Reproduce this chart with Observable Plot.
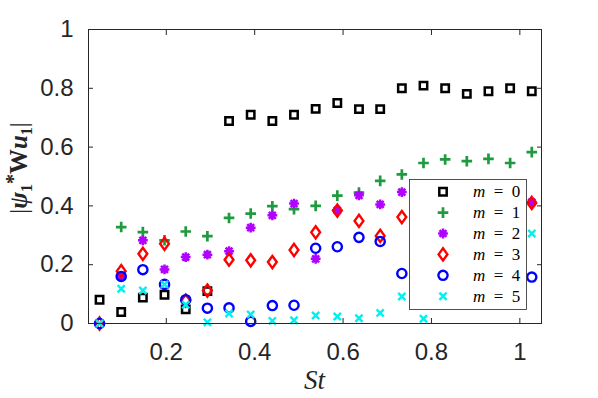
<!DOCTYPE html>
<html><head><meta charset="utf-8">
<script src="https://cdn.jsdelivr.net/npm/d3@7"></script>
<script src="https://cdn.jsdelivr.net/npm/@observablehq/plot@0.6"></script>
<style>body{margin:0;background:#fff} svg{display:block}</style>
</head><body><div id="chart"></div>
<script>
// Strouhal numbers (x)
const St = [0.049, 0.098, 0.147, 0.196, 0.244, 0.293, 0.342, 0.391, 0.44, 0.489, 0.538,
            0.587, 0.636, 0.684, 0.733, 0.782, 0.831, 0.88, 0.929, 0.978, 1.027];
// |psi_1* W u_1| for each azimuthal mode m (null = hidden / not visible)
const m0 = [0.081, 0.039, 0.088, 0.098, 0.048, 0.11, 0.689, 0.71, 0.689, 0.71, 0.73,
            0.75, 0.729, 0.729, 0.80, 0.809, 0.80, 0.781, 0.79, 0.80, 0.79];
const m1 = [null, 0.328, 0.311, 0.283, 0.313, 0.297, 0.359, 0.374, 0.399, 0.389, 0.40,
            0.435, 0.445, 0.485, 0.507, 0.546, 0.558, 0.552, 0.56, 0.546, 0.583];
const m2 = [null, 0.16, 0.283, 0.184, 0.226, 0.234, 0.246, 0.326, 0.368, 0.408, 0.22,
            0.385, 0.436, 0.405, 0.447, null, null, null, null, null, 0.413];
const m3 = [0, 0.178, 0.237, 0.271, 0.078, 0.112, 0.217, 0.215, 0.209, 0.25, 0.31,
            0.384, 0.349, 0.298, 0.362, null, null, null, null, null, 0.41];
const m4 = [0, 0.16, 0.183, 0.133, 0.081, 0.052, 0.053, 0.007, 0.061, 0.062, 0.256,
            0.261, 0.293, 0.279, 0.17, null, null, null, null, null, 0.158];
const m5 = [0, 0.118, 0.112, 0.133, 0.064, 0.004, 0.034, 0.031, 0.009, 0.011, 0.027,
            0.024, 0.018, 0.036, 0.092, 0.016, null, null, null, null, 0.306];
const modeNames = ["0", "1", "2", "3", "4", "5"];
const xTicks = [0.2, 0.4, 0.6, 0.8, 1];
const yTicks = [0, 0.2, 0.4, 0.6, 0.8, 1];
const colors = ["#000000", "#1f9a3f", "#b000ff", "#ff0000", "#0000ff", "#00f0f0"];

// MATLAB-like marker shapes
const symSquare = {draw(c){const s=3.7;c.moveTo(-s,-s);c.lineTo(s,-s);c.lineTo(s,s);c.lineTo(-s,s);c.closePath();}};
const symPlus = {draw(c){const s=5.3;c.moveTo(-s,0);c.lineTo(s,0);c.moveTo(0,-s);c.lineTo(0,s);}};
const symStar = {draw(c){const s=4.9,d=s*0.7071;c.moveTo(-s,0);c.lineTo(s,0);c.moveTo(0,-s);c.lineTo(0,s);c.moveTo(-d,-d);c.lineTo(d,d);c.moveTo(-d,d);c.lineTo(d,-d);}};
const symDiamond = {draw(c){const w=4.4,h=6.1;c.moveTo(0,-h);c.lineTo(w,0);c.lineTo(0,h);c.lineTo(-w,0);c.closePath();}};
const symCircle = {draw(c){const r=4.6;c.moveTo(r,0);c.arc(0,0,r,0,2*Math.PI);c.closePath();}};
const symX = {draw(c){const s=3.6;c.moveTo(-s,-s);c.lineTo(s,s);c.moveTo(-s,s);c.lineTo(s,-s);}};

const series = [m0, m1, m2, m3, m4, m5];
const symbols = [symSquare, symPlus, symStar, symDiamond, symCircle, symX];
const widths = [2.5, 2.7, 2.5, 2.4, 2.4, 2.4];

const axisColor = "#262626";
const plot = Plot.plot({
  width: 598, height: 398,
  marginLeft: 88, marginRight: 57, marginTop: 29, marginBottom: 75,
  style: {fontFamily: "'Liberation Sans', Arial, sans-serif", fontSize: "24px", color: axisColor, background: "#fff"},
  x: {domain: [0.024, 1.049]},
  y: {domain: [0, 1]},
  marks: [
    ...series.map((s, i) => Plot.dot(s, {x: St, y: s, symbol: symbols[i], stroke: colors[i], fill: "none", strokeWidth: widths[i]})),
    Plot.frame({stroke: axisColor, strokeWidth: 1}),
    Plot.axisX({anchor: "bottom", ticks: xTicks, tickSize: -5, fill: "none", label: null}),
    Plot.axisX({anchor: "top", ticks: xTicks, tickSize: -5, fill: "none", label: null}),
    Plot.axisY({anchor: "left", ticks: yTicks, tickSize: -5, fill: "none", label: null}),
    Plot.axisY({anchor: "right", ticks: yTicks, tickSize: -5, fill: "none", label: null}),
    Plot.axisX({anchor: "bottom", ticks: xTicks, tickSize: 0, tickPadding: 19, tickFormat: d => String(d), label: null}),
    Plot.axisY({anchor: "left", ticks: yTicks, tickSize: 0, tickPadding: 15, tickFormat: d => String(d), label: null})
  ]
});
document.getElementById("chart").appendChild(plot);

const svg = d3.select(plot);
// x label
svg.append("text").attr("x", 314.5).attr("y", 389).attr("text-anchor", "middle")
  .attr("font-family", "'Liberation Serif', 'DejaVu Serif', serif").attr("font-style", "italic")
  .attr("font-size", 27).attr("fill", axisColor).text("St");
// y label |psi_1* W u_1|
const yl = svg.append("text").attr("transform", "translate(27,168) rotate(-90)").attr("text-anchor", "middle")
  .attr("font-family", "'Liberation Serif', 'DejaVu Serif', serif").attr("font-size", 25).attr("fill", axisColor);
yl.append("tspan").text("|");
yl.append("tspan").attr("font-style", "italic").attr("font-weight", "bold").text("ψ");
yl.append("tspan").attr("font-size", 16).attr("dy", 5).attr("font-weight", "bold").text("1");
yl.append("tspan").attr("font-size", 20).attr("dy", -12).attr("font-weight", "bold").text("*");
yl.append("tspan").attr("dy", 7).attr("font-weight", "bold").text("W");
yl.append("tspan").attr("font-style", "italic").attr("font-weight", "bold").text("u");
yl.append("tspan").attr("font-size", 16).attr("dy", 5).attr("font-weight", "bold").text("1");
yl.append("tspan").attr("dy", -5).text("|");

// legend
const lg = svg.append("g");
lg.append("rect").attr("x", 409.5).attr("y", 179.5).attr("width", 117).attr("height", 130)
  .attr("fill", "#fff").attr("stroke", axisColor).attr("stroke-width", 0.8);
modeNames.forEach((name, i) => {
  const cy = 191.7 + i * 20.9;
  lg.append("path").attr("transform", `translate(443,${cy})`)
    .attr("d", d3.symbol(symbols[i])())
    .attr("fill", "none").attr("stroke", colors[i]).attr("stroke-width", widths[i]);
  const t = lg.append("text").attr("x", 473).attr("y", cy + 5.5).attr("text-anchor", "start")
    .attr("font-family", "'Liberation Serif', 'DejaVu Serif', serif").attr("font-size", 17).attr("fill", "#000");
  t.append("tspan").attr("font-style", "italic").text("m");
  t.append("tspan").text("\u2002=\u2002" + name);
});
</script>
</body></html>
